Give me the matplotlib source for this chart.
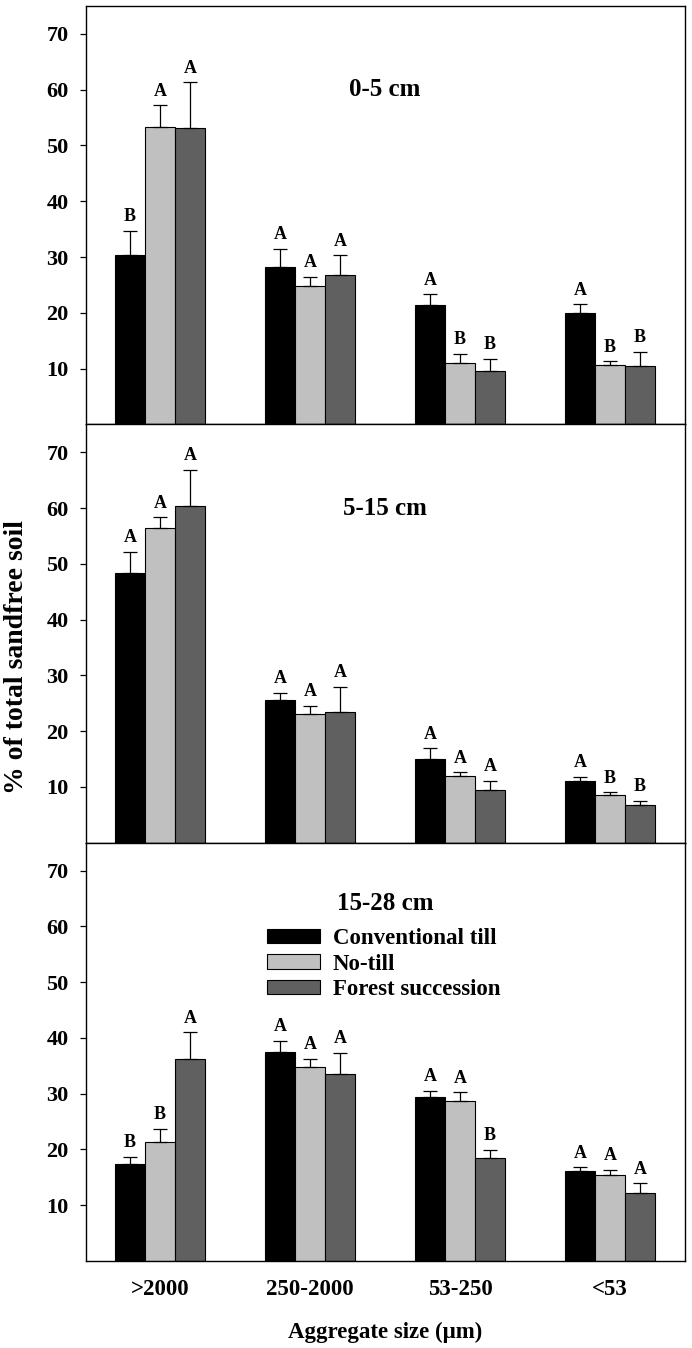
import matplotlib
matplotlib.use("Agg")
import matplotlib.pyplot as plt
from matplotlib.patches import Patch
import numpy as np

plt.rcParams["font.family"] = ["Liberation Serif", "DejaVu Serif"]
plt.rcParams["font.weight"] = "bold"

# data
sizes = [">2000", "250-2000", "53-250", "<53"]
treatments = ["Conventional till", "No-till", "Forest succession"]
depths = ["0-5 cm", "5-15 cm", "15-28 cm"]

# 0-5 cm
ct_0_5 = [30.3, 28.2, 21.4, 20.0]
nt_0_5 = [53.4, 24.8, 11.0, 10.6]
fs_0_5 = [53.2, 26.8, 9.6, 10.4]
ct_0_5_se = [4.4, 3.3, 1.9, 1.5]
nt_0_5_se = [3.8, 1.7, 1.6, 0.7]
fs_0_5_se = [8.1, 3.5, 2.1, 2.6]
ct_0_5_let = ["B", "A", "A", "A"]
nt_0_5_let = ["A", "A", "B", "B"]
fs_0_5_let = ["A", "A", "B", "B"]

# 5-15 cm
ct_5_15 = [48.4, 25.6, 15.0, 11.1]
nt_5_15 = [56.4, 23.0, 12.0, 8.6]
fs_5_15 = [60.4, 23.4, 9.4, 6.8]
ct_5_15_se = [3.8, 1.2, 1.9, 0.7]
nt_5_15_se = [1.9, 1.5, 0.6, 0.4]
fs_5_15_se = [6.5, 4.5, 1.7, 0.7]
ct_5_15_let = ["A", "A", "A", "A"]
nt_5_15_let = ["A", "A", "A", "B"]
fs_5_15_let = ["A", "A", "A", "B"]

# 15-28 cm
ct_15_28 = [17.3, 37.4, 29.4, 16.1]
nt_15_28 = [21.4, 34.7, 28.6, 15.4]
fs_15_28 = [36.2, 33.5, 18.4, 12.1]
ct_15_28_se = [1.3, 2.1, 1.1, 0.7]
nt_15_28_se = [2.3, 1.5, 1.6, 0.9]
fs_15_28_se = [4.8, 3.8, 1.5, 1.8]
ct_15_28_let = ["B", "A", "A", "A"]
nt_15_28_let = ["B", "A", "A", "A"]
fs_15_28_let = ["A", "A", "B", "A"]

panels = [
    ([ct_0_5, nt_0_5, fs_0_5], [ct_0_5_se, nt_0_5_se, fs_0_5_se],
     [ct_0_5_let, nt_0_5_let, fs_0_5_let], 60),
    ([ct_5_15, nt_5_15, fs_5_15], [ct_5_15_se, nt_5_15_se, fs_5_15_se],
     [ct_5_15_let, nt_5_15_let, fs_5_15_let], 60),
    ([ct_15_28, nt_15_28, fs_15_28], [ct_15_28_se, nt_15_28_se, fs_15_28_se],
     [ct_15_28_let, nt_15_28_let, fs_15_28_let], 64),
]

COLORS = ["#000000", "#C0C0C0", "#606060"]
W = 0.2

fig, axes = plt.subplots(3, 1, figsize=(6.92, 13.48), dpi=100, sharex=True)
plt.subplots_adjust(left=0.1243, right=0.9899, top=0.9955, bottom=0.0646, hspace=0)

x = np.arange(len(sizes))
for ax, depth, (vals, ses, lets, ty) in zip(axes, depths, panels):
    for i in range(3):
        xi = x + (i - 1) * W
        ax.bar(xi, vals[i], W, color=COLORS[i], edgecolor="black", linewidth=0.8,
               zorder=2)
        ax.errorbar(xi, vals[i], yerr=[np.zeros(len(x)), ses[i]], fmt="none",
                    ecolor="black", elinewidth=0.9, capsize=4.7, capthick=0.9,
                    zorder=3)
        for xx, v, s, l in zip(xi, vals[i], ses[i], lets[i]):
            ax.annotate(l, (xx, v + s), xytext=(0, 7), textcoords="offset points",
                        ha="center", va="baseline", fontsize=13,
                        fontweight="bold")
    ax.text(1.5, ty, depth, ha="center", va="center", fontsize=18,
            fontweight="bold")
    ax.set_xlim(-0.493, 3.5)
    ax.set_ylim(0, 75)
    ax.set_yticks([10, 20, 30, 40, 50, 60, 70])
    ax.tick_params(axis="y", direction="out", length=4.5, width=0.9,
                   labelsize=16, pad=8)
    ax.tick_params(axis="x", length=0)
    for sp in ax.spines.values():
        sp.set_linewidth(1.0)

axes[-1].set_xticks(x)
axes[-1].set_xticklabels(sizes, fontsize=16.5, fontweight="bold")
axes[-1].tick_params(axis="x", pad=13)
axes[-1].set_xlabel("Aggregate size (\u03bcm)", fontsize=16.5, fontweight="bold",
                    labelpad=16)

fig.text(0.024, 0.5126, "% of total sandfree soil", rotation=90, ha="center",
         va="center", fontsize=20, fontweight="bold")

handles = [Patch(facecolor=c, edgecolor="black", linewidth=0.8) for c in COLORS]
axes[-1].legend(handles, treatments, loc="upper left", bbox_to_anchor=(0.302, 0.796),
                frameon=False, borderpad=0, borderaxespad=0,
                handlelength=2.3, handleheight=0.6, handletextpad=0.57,
                labelspacing=0.2, prop={"weight": "bold", "size": 16.5})

fig.savefig("out.png", dpi=100, facecolor="white")
